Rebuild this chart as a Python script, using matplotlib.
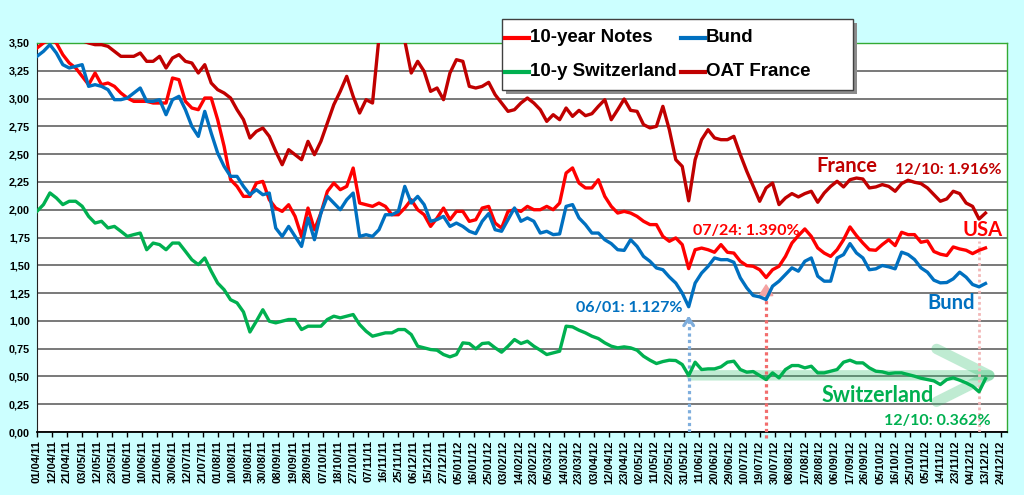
import numpy as np
import matplotlib
matplotlib.use("Agg")
import matplotlib.pyplot as plt
from matplotlib.lines import Line2D
from matplotlib.patches import Rectangle

# business days between two samples, and between two x tick labels
step = 3
tick_every = 7

date_labels = ["01/04/11", "12/04/11", "21/04/11", "03/05/11", "12/05/11", "23/05/11", "01/06/11",
               "10/06/11", "21/06/11", "30/06/11", "12/07/11", "21/07/11", "01/08/11", "10/08/11",
               "19/08/11", "30/08/11", "08/09/11", "19/09/11", "28/09/11", "07/10/11", "18/10/11",
               "27/10/11", "07/11/11", "16/11/11", "25/11/11", "06/12/11", "15/12/11", "27/12/11",
               "05/01/12", "16/01/12", "25/01/12", "03/02/12", "14/02/12", "23/02/12", "05/03/12",
               "14/03/12", "23/03/12", "03/04/12", "12/04/12", "23/04/12", "02/05/12", "11/05/12",
               "22/05/12", "31/05/12", "11/06/12", "20/06/12", "29/06/12", "10/07/12", "19/07/12",
               "30/07/12", "08/08/12", "17/08/12", "28/08/12", "06/09/12", "17/09/12", "26/09/12",
               "05/10/12", "16/10/12", "25/10/12", "05/11/12", "14/11/12", "23/11/12", "04/12/12",
               "13/12/12", "24/12/12"]

# yields in %, one value every 3 business days from 01/04/11
notes = [3.455, 3.50, 3.53, 3.50, 3.395, 3.32, 3.275, 3.20, 3.125, 3.23, 3.125, 3.14, 3.11, 3.05, 3.005,
         2.975, 2.975, 2.975, 2.96, 2.96, 2.96, 3.185, 3.17, 2.975, 2.915, 2.90, 3.005, 3.005, 2.81, 2.57, 2.27,
         2.21, 2.12, 2.12, 2.24, 2.255, 2.09, 2.015, 1.985, 2.045, 1.94, 1.76, 2.015, 1.82, 1.97, 2.165,
         2.24, 2.18, 2.21, 2.375, 2.06, 2.045, 2.03, 2.06, 2.03, 1.955, 1.955, 2.015, 2.09, 2.00,
         1.955, 1.85, 1.925, 2.015, 1.91, 1.985, 1.985, 1.895, 1.91, 2.015, 2.03, 1.88, 1.835, 1.985, 2.00,
         1.985, 2.03, 2.00, 2.00, 2.03, 2.00, 2.06, 2.33,
         2.376, 2.24, 2.196, 2.196, 2.27, 2.12, 2.03, 1.97, 1.985, 1.97, 1.94, 1.896, 1.866, 1.866, 1.76,
         1.716, 1.746, 1.686, 1.47, 1.64, 1.655, 1.64, 1.617, 1.686,
         1.617, 1.61, 1.536, 1.497, 1.491, 1.46, 1.39, 1.46, 1.491, 1.58, 1.70, 1.767, 1.827, 1.76, 1.656,
         1.61, 1.58, 1.64, 1.73, 1.845, 1.767, 1.70, 1.64,
         1.635, 1.686, 1.73, 1.677, 1.797, 1.776, 1.776, 1.707, 1.719, 1.624, 1.60, 1.588, 1.665, 1.647,
         1.635, 1.605, 1.635, 1.656]

bund = [3.38, 3.425, 3.485, 3.41, 3.305, 3.275, 3.29, 3.305, 3.11, 3.125, 3.11, 3.08, 2.99, 2.99, 3.005,
        3.05, 3.095, 2.975, 2.975, 2.99, 2.855, 2.99, 3.02, 2.90, 2.75, 2.66, 2.885, 2.69, 2.51, 2.39, 2.30,
        2.30, 2.21, 2.135, 2.18, 2.135, 2.15, 1.835, 1.76, 1.85, 1.76, 1.67, 1.925, 1.73, 1.97, 2.12,
        2.06, 2.00, 2.09, 2.15, 1.76, 1.775, 1.76, 1.82, 1.955, 1.955, 1.985, 2.21, 2.06, 2.12,
        2.046, 1.896, 1.911, 1.94, 1.85, 1.88, 1.85, 1.806, 1.785, 1.896, 1.965, 1.82, 1.806, 1.911, 2.016,
        1.896, 1.926, 1.896, 1.79, 1.806, 1.776, 1.782, 2.03,
        2.046, 1.926, 1.866, 1.79, 1.79, 1.73, 1.695, 1.64, 1.634, 1.73, 1.67, 1.58, 1.536, 1.476, 1.46,
        1.395, 1.34, 1.25, 1.127, 1.34, 1.43, 1.49, 1.566, 1.55,
        1.551, 1.527, 1.387, 1.297, 1.228, 1.216, 1.192, 1.312, 1.357, 1.417, 1.477, 1.447, 1.536, 1.566,
        1.402, 1.357, 1.357, 1.566, 1.596, 1.695, 1.611, 1.566, 1.46,
        1.468, 1.498, 1.486, 1.468, 1.618, 1.597, 1.552, 1.477, 1.438, 1.366, 1.342, 1.345, 1.378, 1.438,
        1.393, 1.327, 1.306, 1.336]

swiss = [1.986, 2.046, 2.151, 2.106, 2.046, 2.076, 2.076, 2.031, 1.94, 1.88, 1.896, 1.836, 1.85, 1.806, 1.76,
         1.776, 1.79, 1.64, 1.70, 1.686, 1.64, 1.70, 1.70, 1.626, 1.55, 1.506, 1.566, 1.447, 1.34, 1.28, 1.19,
         1.162, 1.08, 0.90, 0.997, 1.10, 0.997, 0.982, 0.997, 1.012, 1.012, 0.922, 0.952, 0.952, 0.952, 1.012,
         1.042, 1.027, 1.042, 1.057, 0.967, 0.907, 0.862, 0.877, 0.892, 0.892, 0.922, 0.922, 0.877, 0.772,
         0.757, 0.742, 0.736, 0.697, 0.676, 0.697, 0.802, 0.796, 0.748, 0.796, 0.802, 0.757, 0.718, 0.772,
         0.832, 0.796, 0.817, 0.772, 0.736, 0.697, 0.712, 0.727, 0.952,
         0.946, 0.916, 0.892, 0.862, 0.841, 0.802, 0.772, 0.757, 0.766, 0.757, 0.736, 0.682, 0.646, 0.616,
         0.634, 0.646, 0.643, 0.607, 0.508, 0.628, 0.562, 0.568, 0.568, 0.586,
         0.628, 0.637, 0.562, 0.538, 0.544, 0.508, 0.472, 0.532, 0.487, 0.562, 0.598, 0.598, 0.577, 0.592,
         0.532, 0.532, 0.547, 0.562, 0.628, 0.646, 0.622, 0.622, 0.577,
         0.547, 0.541, 0.526, 0.532, 0.532, 0.517, 0.502, 0.484, 0.472, 0.460, 0.427, 0.472, 0.487, 0.466,
         0.442, 0.412, 0.362, 0.48]

oat = [3.62, 3.63, 3.62, 3.60, 3.58, 3.57, 3.55, 3.52, 3.50, 3.485, 3.485, 3.47, 3.425, 3.38, 3.38,
       3.38, 3.41, 3.335, 3.335, 3.38, 3.275, 3.365, 3.395, 3.335, 3.32, 3.23, 3.305, 3.14, 3.08, 3.05, 3.005,
       2.90, 2.81, 2.645, 2.705, 2.735, 2.66, 2.525, 2.405, 2.54, 2.495, 2.45, 2.615, 2.495, 2.615, 2.78,
       2.945, 3.065, 3.20, 3.02, 2.87, 2.99, 2.96, 3.55, 3.65, 3.52, 3.55, 3.52, 3.23, 3.335,
       3.245, 3.065, 3.095, 2.99, 3.23, 3.35, 3.335, 3.11, 3.095, 3.11, 3.146, 3.035, 2.96, 2.885, 2.90,
       2.96, 3.005, 2.96, 2.90, 2.795, 2.855, 2.81, 2.915,
       2.84, 2.894, 2.846, 2.864, 2.93, 2.99, 2.81, 2.90, 2.996, 2.894, 2.885, 2.766, 2.736, 2.75, 2.93,
       2.72, 2.45, 2.39, 2.08, 2.45, 2.63, 2.72, 2.646, 2.63,
       2.63, 2.66, 2.496, 2.346, 2.21, 2.076, 2.196, 2.24, 2.046, 2.106, 2.145, 2.115, 2.145, 2.166,
       2.067, 2.15, 2.21, 2.256, 2.205, 2.27, 2.285, 2.276, 2.196,
       2.205, 2.226, 2.21, 2.166, 2.235, 2.265, 2.247, 2.235, 2.196, 2.136, 2.076, 2.097, 2.166, 2.145,
       2.06, 2.03, 1.916, 1.97]

names = ["10-year Notes", "Bund", "10-y Switzerland", "OAT France"]
colors = ["#FF0000", "#0070C0", "#00B050", "#C00000"]
series = [notes, bund, swiss, oat]

days = np.arange(len(notes)) * step

W, H = 1024, 495
fig = plt.figure(figsize=(W / 100, H / 100), dpi=100, facecolor="#CCFFFF")
ax = fig.add_axes([37 / W, 1 - 432 / H, 970 / W, 389 / H])
ann_font = ["Lato", "DejaVu Sans"]

for vals, col in zip(series, colors):
    ax.plot(days, vals, color=col, lw=2.4, solid_joinstyle="round", zorder=4)

ax.set_xlim(0, 451)
ax.set_ylim(0, 3.5)

yt = np.arange(0, 3.51, 0.25)
ax.set_yticks(yt)
ax.set_yticklabels([f"{v:.2f}".replace(".", ",") for v in yt], fontsize=7.8, fontweight="bold")
ax.set_xticks(np.arange(len(date_labels)) * tick_every)
ax.set_xticklabels(date_labels, rotation=90, fontsize=8, fontweight="bold")
ax.tick_params(axis="x", length=3.5, width=1, pad=2.5)
ax.tick_params(axis="y", length=0, pad=5)

ax.set_axisbelow(True)
ax.yaxis.grid(True, color="#555555", lw=1.1)
for s in ["top", "right"]:
    ax.spines[s].set_color("#33AA33")
    ax.spines[s].set_linewidth(1)
ax.spines["left"].set_color("#222222")
ax.spines["bottom"].set_color("black")
ax.spines["bottom"].set_linewidth(1.3)

# markers for the lows
i_bund = days[int(np.argmin(bund))]
i_notes = days[int(np.argmin(notes))]
i_last = days[int(np.argmin(oat))]

ax.plot([i_bund, i_bund], [0, 1.0], color="#7FAEDD", lw=2.3, ls=(0, (1, 1)), zorder=3)
ax.annotate("", xy=(i_bund, 1.07), xytext=(i_bund, 0.97),
            arrowprops=dict(arrowstyle="->,head_length=0.5,head_width=0.35", color="#7FAEDD", lw=2.3))
ax.plot([i_notes, i_notes], [-0.05, 1.25], color="#F26D6D", lw=2.3, ls=(0, (1, 1)), zorder=3, clip_on=False)
ax.annotate("", xy=(i_notes, 1.36), xytext=(i_notes, 1.22),
            arrowprops=dict(arrowstyle="-|>,head_length=0.7,head_width=0.45", color="#F4A3A3", lw=1.5))
ax.plot([i_last, i_last], [0, 1.72], color="#F2B8B8", lw=2.0, ls=(0, (1, 1)), zorder=3)

# big faded arrow along the Swiss low
ax.annotate("", xy=(449.5, 0.51), xytext=(i_bund, 0.51),
            arrowprops=dict(arrowstyle="->,head_length=1.9,head_width=0.95", color="#2DBE6C",
                            lw=7.5, alpha=0.3, mutation_scale=20), zorder=2)

txt = [("France", 376.7, 2.392, "#C00000", 14.5),
       ("12/10: 1.916%", 423.7, 2.356, "#C00000", 11.5),
       ("USA", 439.5, 1.817, "#FF0000", 14.5),
       ("07/24: 1.390%", 329.8, 1.808, "#FF0000", 11.5),
       ("Bund", 425.1, 1.159, "#0070C0", 14.5),
       ("06/01: 1.127%", 275.3, 1.115, "#0070C0", 11.5),
       ("Switzerland", 390.7, 0.332, "#00B050", 15.5),
       ("12/10: 0.362%", 418.6, 0.099, "#00B050", 11.5)]
for t, x, y, c, fs in txt:
    ax.text(x, y, t, color=c, fontsize=fs, fontweight="bold", family=ann_font,
            ha="center", va="center", zorder=6)

# legend box drawn at the top of the figure
def fx(px):
    return px / W

def fy(py):
    return 1 - py / H

fig.add_artist(Rectangle((fx(506), fy(94)), 351 / W, 71 / H, transform=fig.transFigure,
                         facecolor="#8C8C8C", edgecolor="none", zorder=5))
fig.add_artist(Rectangle((fx(502), fy(90)), 351 / W, 71 / H, transform=fig.transFigure,
                         facecolor="white", edgecolor="#404040", lw=1, zorder=6))
for k, (lab, col) in enumerate(zip(names, colors)):
    row, c = k // 2, k % 2
    x0 = [505, 681][c]
    yy = [38, 72][row]
    fig.add_artist(Line2D([fx(x0), fx(x0 + 24)], [fy(yy), fy(yy)], transform=fig.transFigure,
                          color=col, lw=3, zorder=7))
    fig.text(fx(x0 + 25), fy(yy), lab, fontsize=13.5, fontweight="bold", family=["Liberation Sans", "DejaVu Sans"],
             va="center", ha="left", zorder=7)

for lbl in ax.get_xticklabels() + ax.get_yticklabels():
    lbl.set_family(["Liberation Sans", "DejaVu Sans"])

fig.savefig("out.png", dpi=100, facecolor=fig.get_facecolor())
